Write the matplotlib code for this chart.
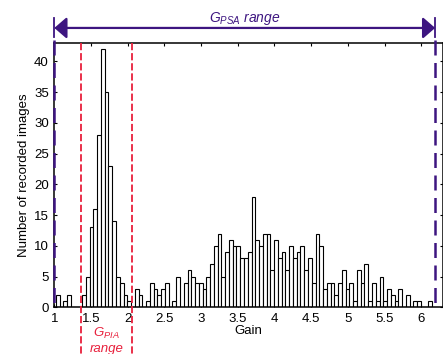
import numpy as np
import matplotlib
matplotlib.use('Agg')
import matplotlib.pyplot as plt
from matplotlib.ticker import FormatStrFormatter, MultipleLocator

plt.rcParams['font.family'] = ['Liberation Sans', 'DejaVu Sans']
plt.rcParams['mathtext.fontset'] = 'custom'
plt.rcParams['mathtext.rm'] = 'Liberation Sans'
plt.rcParams['mathtext.it'] = 'Liberation Sans:italic'

# histogram of gain values (100 bins)
gain_min = 1.02
gain_max = 6.15
counts = [2, 0, 1, 2, 0, 0, 0, 2, 5, 13,
          16, 28, 42, 35, 23, 14, 5, 4, 2, 1,
          0, 3, 2, 0, 1, 4, 3, 2, 3, 4,
          0, 1, 5, 0, 4, 6, 5, 4, 4, 3,
          5, 7, 10, 12, 5, 9, 11, 10, 10, 8,
          8, 9, 18, 11, 10, 12, 12, 6, 11, 8,
          9, 6, 10, 8, 9, 10, 6, 8, 4, 12,
          10, 3, 4, 4, 2, 4, 6, 3, 4, 1,
          6, 4, 7, 1, 4, 1, 5, 1, 3, 2,
          1, 3, 0, 2, 0, 1, 1, 0, 0, 1]
pia_range = [1.36, 2.06]
psa_range = [1.0, 6.19]
xticks = [1, 1.5, 2, 2.5, 3, 3.5, 4, 4.5, 5, 5.5, 6]

red = '#e8203c'
purple = '#3d1580'

edges = np.linspace(gain_min, gain_max, len(counts) + 1)
width = edges[1] - edges[0]

fig = plt.figure(figsize=(4.43, 3.54), dpi=100)
ax = fig.add_axes([0.1226, 0.132, 0.878, 0.7465])

ax.bar(edges[:-1], counts, width=width, align='edge', color='white',
       edgecolor='black', linewidth=0.8, zorder=2)

ax.set_xlim(1, 6.3)
ax.set_ylim(0, 43)
ax.set_xticks(xticks)
ax.xaxis.set_major_formatter(FormatStrFormatter('%g'))
ax.yaxis.set_major_locator(MultipleLocator(5))
ax.tick_params(direction='in', top=True, right=True, length=2.5, width=0.8,
               labelsize=9.5, pad=4)
for s in ax.spines.values():
    s.set_linewidth(1.1)
ax.set_xlabel('Gain', fontsize=9.5, labelpad=0)
ax.set_ylabel('Number of recorded images', fontsize=9.5, labelpad=3)

trans = ax.get_xaxis_transform()
for x in pia_range:
    ax.plot([x, x], [1.0, -0.2], transform=trans, color=red, lw=1.3,
            ls=(0, (4, 1.6)), clip_on=False, zorder=4)
for x in psa_range:
    ax.plot([x, x], [1.012, 0.01], transform=trans, color=purple, lw=1.8,
            ls=(0, (6, 3)), clip_on=False, zorder=5)

ax.annotate('', xy=(psa_range[0], 1.057), xytext=(psa_range[1], 1.057),
            xycoords=trans, textcoords=trans,
            arrowprops=dict(arrowstyle='<|-|>,head_length=0.75,head_width=0.65',
                            color=purple, lw=1.6, mutation_scale=10,
                            shrinkA=0, shrinkB=0))
for x in psa_range:
    ax.plot([x, x], [1.023, 1.094], transform=trans, color=purple, lw=1.3,
            clip_on=False)
ax.text(np.mean(psa_range), 1.081, r'$G_{PSA}\ range$', transform=trans,
        ha='center', va='baseline', color=purple, fontsize=10)

ax.text(np.mean(pia_range), -0.112, r'$G_{PIA}$', transform=trans,
        ha='center', va='baseline', color=red, fontsize=9.5)
ax.text(np.mean(pia_range), -0.171, 'range', transform=trans, style='italic',
        ha='center', va='baseline', color=red, fontsize=9.5)

fig.savefig('out.png', dpi=100)
